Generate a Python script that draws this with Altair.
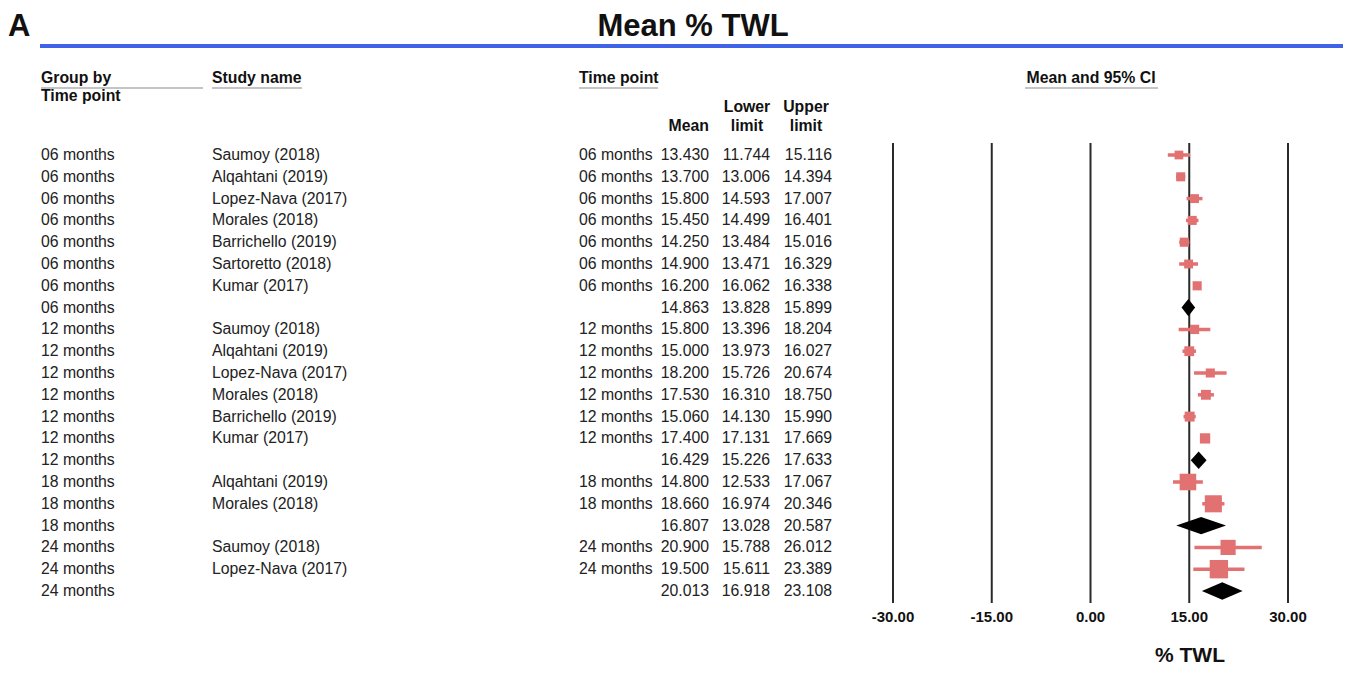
import altair as alt
import pandas as pd

# ---------------- data ----------------
groups = ["06 months"] * 8 + ["12 months"] * 7 + ["18 months"] * 3 + ["24 months"] * 3
studies = ["Saumoy (2018)", "Alqahtani (2019)", "Lopez-Nava (2017)", "Morales (2018)",
           "Barrichello (2019)", "Sartoretto (2018)", "Kumar (2017)", "",
           "Saumoy (2018)", "Alqahtani (2019)", "Lopez-Nava (2017)", "Morales (2018)",
           "Barrichello (2019)", "Kumar (2017)", "",
           "Alqahtani (2019)", "Morales (2018)", "",
           "Saumoy (2018)", "Lopez-Nava (2017)", ""]
is_summary = [s == "" for s in studies]
time_points = ["" if s else g for g, s in zip(groups, is_summary)]
means = [13.430, 13.700, 15.800, 15.450, 14.250, 14.900, 16.200, 14.863,
         15.800, 15.000, 18.200, 17.530, 15.060, 17.400, 16.429,
         14.800, 18.660, 16.807,
         20.900, 19.500, 20.013]
lower = [11.744, 13.006, 14.593, 14.499, 13.484, 13.471, 16.062, 13.828,
         13.396, 13.973, 15.726, 16.310, 14.130, 17.131, 15.226,
         12.533, 16.974, 13.028,
         15.788, 15.611, 16.918]
upper = [15.116, 14.394, 17.007, 16.401, 15.016, 16.329, 16.338, 15.899,
         18.204, 16.027, 20.674, 18.750, 15.990, 17.669, 17.633,
         17.067, 20.346, 20.587,
         26.012, 23.389, 23.108]
# relative weights (%) within each subgroup (study rows only, None for summaries)
weights = [13.5, 14.5, 14.0, 14.5, 14.8, 14.0, 14.7, None,
           15.2, 17.0, 14.5, 17.2, 17.4, 18.7, None,
           48.5, 51.5, None,
           40.5, 59.5, None]
tick_values = [-30, -15, 0, 15, 30]
tick_labels = ["-30.00", "-15.00", "0.00", "15.00", "30.00"]

df = pd.DataFrame({
    "row": list(range(len(groups))),
    "group": groups, "study": studies, "tp": time_points,
    "mean": means, "lo": lower, "hi": upper,
    "summary": is_summary, "weight": weights,
})
study_df = df[~df["summary"]].copy()
summ_df = df[df["summary"]].copy()

# diamond vertices built from summary rows
H = 0.4
dia_rows = []
for _, r in summ_df.iterrows():
    dia_rows.append({"row": r["row"], "x": r["lo"], "y1": r["row"], "y2": r["row"]})
    dia_rows.append({"row": r["row"], "x": r["mean"], "y1": r["row"] - H, "y2": r["row"] + H})
    dia_rows.append({"row": r["row"], "x": r["hi"], "y1": r["row"], "y2": r["row"]})
dia_df = pd.DataFrame(dia_rows)
tick_df = pd.DataFrame({"t": tick_values, "lab": tick_labels})

# ---------------- styling ----------------
FONT = "Liberation Sans"
FS = 15.8
TXT = "#222222"
PINK = "#e27272"

x_scale = alt.Scale(domain=[-30, 30], range=[885, 1280], nice=False, zero=False)
y_scale = alt.Scale(domain=[0, 20], range=[147, 583], nice=False, zero=False)
Y = alt.Y("row:Q", scale=y_scale, axis=None)


def col(field, xpx, align, fmt=None, data=df):
    txt = alt.Text(f"{field}:N") if fmt is None else alt.Text(f"{field}:Q", format=fmt)
    return alt.Chart(data).mark_text(align=align, baseline="middle", font=FONT,
                                     fontSize=FS, color=TXT).encode(
        x=alt.value(xpx), y=Y, text=txt)


def label(text, x, y, align="left", size=FS, bold=True, baseline="middle"):
    return alt.Chart(pd.DataFrame({"t": [text]})).mark_text(
        align=align, baseline=baseline, font=FONT, fontSize=size,
        fontWeight="bold" if bold else "normal", color="#111111").encode(
        x=alt.value(x), y=alt.value(y), text="t:N")


def hline(x1, x2, y, color="#8a8a8a", w=1.2):
    return alt.Chart(pd.DataFrame({"a": [0]})).mark_rule(color=color, strokeWidth=w).encode(
        x=alt.value(x1), x2=alt.value(x2), y=alt.value(y))


# ---------------- layers ----------------
grid = alt.Chart(tick_df).mark_rule(color="#2a2a2a", strokeWidth=2).encode(
    x=alt.X("t:Q", scale=x_scale, axis=None), y=alt.value(135), y2=alt.value(595))
tick_text = alt.Chart(tick_df).mark_text(font=FONT, fontSize=15, fontWeight="bold",
                                         color="#111111", baseline="middle").encode(
    x=alt.X("t:Q", scale=x_scale, axis=None), y=alt.value(609), text="lab:N")

bars = alt.Chart(study_df).mark_rule(color=PINK, strokeWidth=3.5).encode(
    x=alt.X("lo:Q", scale=x_scale, axis=None), x2="hi:Q", y=Y)
squares = alt.Chart(study_df).mark_square(color=PINK, opacity=1).encode(
    x=alt.X("mean:Q", scale=x_scale, axis=None), y=Y,
    size=alt.Size("weight:Q", scale=alt.Scale(domain=[0, 60], range=[0, 340]), legend=None))
diamonds = alt.Chart(dia_df).mark_area(color="black", orient="vertical", opacity=1).encode(
    x=alt.X("x:Q", scale=x_scale, axis=None),
    y=alt.Y("y1:Q", scale=y_scale, axis=None), y2="y2:Q", detail="row:N")

layers = [
    label("A", 0, 3.6, size=31, baseline="top"),
    label("Mean % TWL", 685, 3.6, align="center", size=31, baseline="top"),
    hline(32, 1335, 38, color="#3f62e6", w=4),
    label("Group by", 33, 70), hline(33, 195, 80),
    label("Time point", 33, 88),
    label("Study name", 204, 70), hline(204, 294, 80),
    label("Time point", 571, 70), hline(571, 650, 80),
    label("Mean and 95% CI", 1083, 70, align="center"), hline(1017, 1150, 80),
    label("Mean", 701, 118, align="right"),
    label("Lower", 739, 99, align="center"), label("limit", 739, 118, align="center"),
    label("Upper", 798, 99, align="center"), label("limit", 798, 118, align="center"),
    col("group", 33, "left"),
    col("study", 204, "left"),
    col("tp", 571, "left"),
    col("mean", 701, "right", ".3f"),
    col("lo", 762, "right", ".3f"),
    col("hi", 824, "right", ".3f"),
    grid, tick_text, bars, squares, diamonds,
    label("% TWL", 1182, 648, align="center", size=21),
]

chart = alt.layer(*layers).properties(
    width=1337, height=660, padding=0, autosize="none", background="white"
).configure_view(stroke=None)

chart.save("out.html", embed_options={"renderer": "svg", "actions": False})
